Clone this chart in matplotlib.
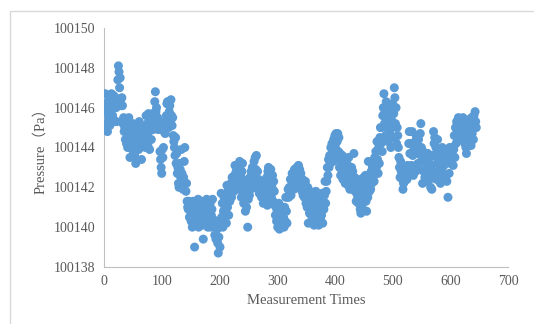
import numpy as np
import matplotlib
matplotlib.use('Agg')
import matplotlib.pyplot as plt
from matplotlib.patches import Rectangle

p_offset = [
    145.0, 146.7, 145.8, 145.2, 146.0, 144.8, 146.3, 145.5, 146.6, 145.1,
    146.2, 145.9, 146.7, 146.4, 145.6, 146.0, 146.6, 145.3, 146.2, 146.5,
    146.0, 145.3, 146.4, 147.4, 148.1, 147.8, 147.0, 147.5, 146.4, 146.1,
    146.5, 146.1, 145.2, 145.5, 144.8, 145.0, 144.4, 145.3, 144.2, 145.4,
    144.0, 144.6, 145.5, 144.3, 143.5, 145.0, 144.1, 144.7, 143.9, 145.2,
    144.5, 144.0, 143.6, 144.8, 143.2, 144.3, 145.0, 144.2, 144.9, 143.9,
    145.3, 144.5, 144.0, 144.8, 143.4, 144.6, 145.0, 144.2, 144.7, 144.4,
    145.0, 144.0, 145.6, 144.5, 145.2, 144.1, 145.7, 144.8, 143.9, 145.0,
    145.5, 144.4, 145.0, 145.7, 144.9, 145.3, 145.0, 146.3, 146.8, 145.8,
    146.0, 145.2, 145.5, 144.9, 145.0, 145.3, 143.8, 143.4, 143.0, 142.7,
    143.9, 143.5, 144.0, 144.8, 145.3, 144.7, 145.0, 145.6, 146.2, 146.3,
    145.5, 145.0, 145.8, 146.1, 145.3, 146.4, 145.6, 145.1, 145.5, 144.6,
    144.3, 144.0, 143.6, 144.5, 143.2, 143.7, 142.7, 143.0, 142.2, 142.0,
    143.2, 142.9, 142.5, 143.9, 142.7, 142.2, 141.9, 142.5, 143.3, 144.0,
    142.2, 141.8, 142.2, 141.3, 141.0, 140.9, 141.3, 140.5, 141.2, 140.8,
    140.3, 141.0, 140.0, 141.3, 140.5, 140.8, 139.0, 141.2, 140.2, 140.6,
    141.0, 140.4, 141.4, 140.0, 140.7, 141.2, 140.3, 140.9, 141.3, 140.1,
    140.6, 139.4, 141.0, 140.4, 141.3, 140.2, 140.8, 141.4, 140.5, 140.0,
    141.1, 140.7, 140.3, 141.2, 140.0, 140.6, 140.9, 141.4, 140.4, 140.1,
    140.2, 139.6, 140.0, 139.4, 140.3, 139.9, 139.2, 138.7, 139.5, 140.0,
    139.0, 140.2, 141.7, 140.5, 141.2, 140.0, 140.8, 141.5, 140.3, 141.0,
    141.4, 140.2, 142.1, 141.0, 141.8, 140.6, 142.0, 141.3, 141.6, 142.2,
    141.5, 142.5, 142.0, 142.3, 141.8, 142.6, 143.1, 142.0, 142.8, 142.3,
    142.2, 143.0, 142.5, 141.9, 143.3, 142.6, 142.1, 141.5, 142.8, 143.2,
    142.4, 141.2, 142.0, 141.6, 140.8, 142.3, 141.0, 141.8, 140.0, 141.4,
    142.0, 141.6, 142.5, 141.9, 142.8, 142.2, 143.0, 142.6, 142.0, 143.3,
    142.5, 143.5, 142.9, 143.6, 142.2, 142.8, 141.9, 142.4, 141.7, 142.2,
    141.8, 142.0, 141.5, 142.3, 141.9, 141.2, 142.1, 141.6, 141.8, 142.2,
    141.4, 142.5, 141.1, 142.8, 143.0, 142.4, 141.7, 142.2, 142.9, 141.5,
    142.0, 142.6, 141.3, 142.3, 141.8, 141.1, 140.6, 141.0, 140.3, 140.8,
    140.0, 140.5, 141.2, 139.9, 140.4, 140.9, 140.2, 140.7, 141.0, 140.1,
    140.5, 140.0, 141.0, 140.3, 141.5, 140.8, 140.2, 141.5, 141.9, 141.5,
    142.0, 141.9, 142.4, 141.6, 142.0, 142.7, 142.2, 142.5, 141.9, 142.9,
    142.3, 142.6, 142.0, 143.0, 142.4, 142.8, 143.1, 142.5, 142.9, 142.2,
    142.7, 142.0, 141.8, 142.4, 141.6, 142.2, 141.5, 141.9, 142.3, 141.2,
    141.7, 141.0, 142.0, 140.2, 141.4, 140.7, 141.8, 141.3, 140.6, 141.1,
    140.4, 141.6, 140.9, 140.1, 141.2, 140.5, 141.8, 140.3, 141.0, 140.7,
    141.4, 140.1, 140.8, 141.5, 140.4, 141.1, 140.6, 141.7, 140.2, 141.3,
    140.9, 141.6, 142.3, 141.2, 141.8, 142.3, 143.0, 142.6, 143.4, 143.0,
    143.6, 143.2, 144.0, 143.5, 144.2, 143.8, 143.3, 144.4, 143.6, 144.6,
    144.0, 144.7, 143.5, 144.3, 144.7, 143.8, 144.5, 143.0, 143.7, 142.6,
    143.3, 142.9, 143.6, 142.4, 143.1, 142.7, 143.4, 142.2, 143.0, 142.5,
    143.2, 142.8, 142.1, 143.5, 142.6, 141.9, 142.9, 142.3, 143.0, 142.4,
    142.8, 142.0, 143.7, 142.5, 141.8, 142.2, 141.3, 142.0, 141.6, 142.4,
    141.2, 141.9, 141.5, 140.9, 140.7, 141.8, 141.1, 142.2, 141.4, 142.5,
    141.7, 142.0, 142.6, 141.3, 140.8, 142.3, 141.5, 143.3, 142.0, 141.8,
    142.4, 141.9, 142.8, 142.2, 143.0, 142.5, 143.2, 142.3, 143.5, 142.7,
    143.8, 143.0, 144.3, 143.4, 142.7, 144.0, 143.2, 144.5, 145.0, 144.2,
    145.0, 143.8, 145.6, 146.0, 146.7, 145.2, 145.8, 144.6, 146.3, 145.0,
    145.5, 144.3, 146.1, 145.3, 144.8, 145.9, 144.0, 145.4, 145.0, 146.2,
    144.5, 145.7, 147.0, 146.5, 145.2, 146.0, 144.2, 145.0, 144.6, 144.0,
    143.5, 143.0, 142.5, 143.3, 142.8, 143.1, 142.4, 141.9, 142.2, 142.7,
    142.3, 143.0, 142.6, 142.9, 142.4, 143.1, 142.7, 144.2, 144.8, 143.7,
    142.9, 144.2, 143.1, 144.8, 143.6, 142.6, 144.0, 143.0, 144.3, 142.8,
    144.6, 143.7, 144.1, 143.2, 144.4, 142.9, 143.8, 144.7, 145.2, 144.0,
    143.4, 142.2, 143.8, 142.8, 143.3, 142.5, 143.6, 142.9, 143.1, 142.3,
    143.7, 142.6, 143.2, 142.4, 143.5, 142.0, 143.0, 141.9, 142.7, 143.6,
    144.8, 144.2, 144.5, 143.6, 144.0, 142.4, 143.2, 144.4, 142.8, 143.5,
    142.4, 143.8, 142.2, 143.4, 142.9, 144.0, 142.6, 143.6, 143.1, 143.9,
    142.5, 143.7, 143.3, 142.3, 143.9, 141.5, 143.5, 142.7, 144.0, 143.2,
    143.8, 143.4, 144.0, 143.6, 143.1, 143.9, 144.6, 143.5, 145.0, 144.2,
    145.3, 144.8, 144.6, 145.5, 144.9, 145.2, 144.5, 145.4, 144.7, 145.1,
    144.4, 145.5, 144.8, 145.0, 144.2, 145.3, 144.0, 143.7, 144.6, 145.2,
    144.8, 144.3, 145.4, 144.5, 145.0, 144.1, 145.5, 144.7, 145.2, 144.4,
    145.6, 145.0, 145.8, 145.3, 145.0,
]
pressure = 100000 + np.array(p_offset)
times = np.arange(1, len(pressure) + 1)

x_ticks = [0, 100, 200, 300, 400, 500, 600, 700]
y_ticks = [100138, 100140, 100142, 100144, 100146, 100148, 100150]

fig = plt.figure(figsize=(5.34, 3.24), dpi=100)
# light chart-area border (only top/left visible in the crop)
fig.patches.append(Rectangle((10 / 534, -0.1), 1.2, 1 - 11 / 324 + 0.1, transform=fig.transFigure,
                             fill=False, edgecolor='#d9d9d9', linewidth=1))
ax = fig.add_axes([104 / 534, 57 / 324, 404 / 534, 239 / 324])

ax.scatter(times, pressure, s=42, color='#5b9bd5', edgecolors='none', zorder=3)

ax.set_xlim(0, 700)
ax.set_ylim(100138, 100150)
ax.set_xticks(x_ticks)
ax.set_yticks(y_ticks)
ax.tick_params(length=0, labelsize=10, labelcolor='#595959', pad=6)
for lbl in ax.get_xticklabels() + ax.get_yticklabels():
    lbl.set_family('Liberation Serif')
ax.yaxis.get_major_formatter().set_useOffset(False)
ax.yaxis.get_major_formatter().set_scientific(False)

for s in ['top', 'right']:
    ax.spines[s].set_visible(False)
for s in ['left', 'bottom']:
    ax.spines[s].set_color('#bfbfbf')

ax.set_xlabel('Measurement Times', family=['Liberation Serif', 'Noto Sans CJK SC'], fontsize=10.5,
              color='#595959', labelpad=4)
ax.set_ylabel('Pressure（Pa）', family=['Liberation Serif', 'Noto Sans CJK SC'], fontsize=10.5,
              color='#595959', labelpad=5)

plt.savefig('out.png', dpi=100)
